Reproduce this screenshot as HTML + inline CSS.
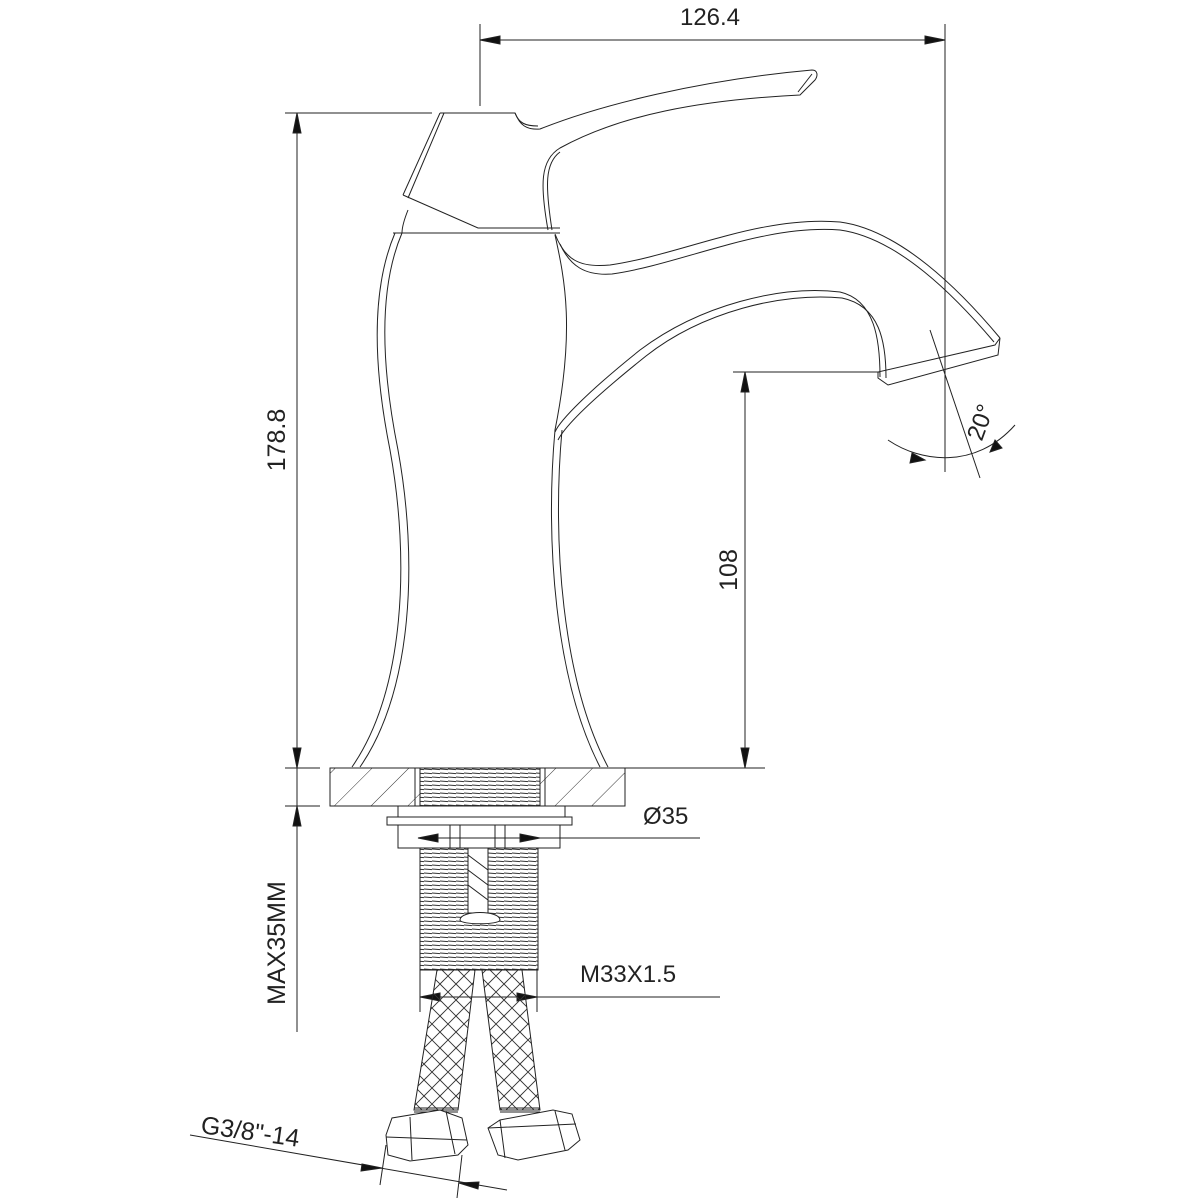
<!DOCTYPE html>
<html><head><style>
html,body{margin:0;padding:0;background:#fff}
svg{display:block}
text{font-family:"Liberation Sans",sans-serif;fill:#222}
</style></head><body>
<svg width="1200" height="1200" viewBox="0 0 1200 1200" xmlns="http://www.w3.org/2000/svg">
<defs>
<pattern id="h" width="26" height="26" patternUnits="userSpaceOnUse" patternTransform="rotate(45)"><line x1="0" y1="0" x2="0" y2="26" stroke="#333" stroke-width="1"/></pattern>
<pattern id="th" width="8" height="4" patternUnits="userSpaceOnUse"><line x1="0" y1="1" x2="8" y2="1.6" stroke="#333" stroke-width="1"/></pattern>
<pattern id="br" width="16" height="16" patternUnits="userSpaceOnUse"><path d="M0,0L8,8L0,16M8,8L16,0M8,8L16,16" stroke="#333" fill="none" stroke-width="0.9"/></pattern>
</defs>
<g fill="none" stroke="#222" stroke-width="1">
<!-- dims top -->
<line x1="480" y1="24" x2="480" y2="106"/>
<line x1="945" y1="24" x2="945" y2="472"/>
<line x1="480" y1="40" x2="945" y2="40"/>
<path d="M500,36L480,40L500,44z M925,36L945,40L925,44z" fill="#111"/>
<!-- left dims -->
<line x1="285" y1="113" x2="432" y2="113"/>
<line x1="285" y1="768" x2="320" y2="768"/>
<line x1="285" y1="806" x2="320" y2="806"/>
<line x1="297" y1="113" x2="297" y2="768"/>
<path d="M293,133L297,113L301,133z M293,748L297,768L301,748z" fill="#111"/>
<line x1="297" y1="768" x2="297" y2="1032"/>
<path d="M293,826L297,806L301,826z" fill="#111"/>
<!-- 108 -->
<line x1="733" y1="372" x2="880" y2="372"/>
<line x1="605" y1="768" x2="765" y2="768"/>
<line x1="745" y1="372" x2="745" y2="768"/>
<path d="M741,392L745,372L749,392z M741,748L745,768L749,748z" fill="#111"/>
<!-- handle -->
<path d="M440,113L515,113C520,125 526,130 540,129C600,105 700,80 812,70C818,70 818,76 815,80L800,95C700,100 620,115 560,148C540,160 540,185 548,230"/>
<path d="M444,113L408,198M515,113C519,123 525,126 538,126M812,74L798,92M560,152C545,163 545,185 552,230"/>
<path d="M403,195L440,113M403,195L478,228L560,228"/>
<!-- body -->
<line x1="393" y1="233" x2="560" y2="233"/>
<path d="M395,233C375,280 370,350 390,450C410,560 405,690 352,767"/>
<path d="M402,233C382,280 378,350 398,450C418,560 413,690 360,767"/>
<path d="M408,210C404,220 402,228 402,233"/>
<path d="M555,235C565,280 575,330 555,430C545,540 555,680 600,767"/>
<path d="M562,430C552,540 562,680 608,767"/>
<!-- spout -->
<path d="M555,234C565,260 580,268 610,265C680,255 760,215 840,222C900,230 960,290 1000,338"/>
<path d="M560,244C570,266 585,276 612,274C682,264 762,224 840,230C898,238 955,296 994,342"/>
<path d="M1000,338L998,355L888,385L878,378L878,372L995,345z"/>
<path d="M880,377C880,340 875,300 840,292C780,285 700,305 640,350C590,390 560,420 555,432"/>
<path d="M886,378C886,342 880,306 842,298C782,292 702,312 646,356C596,396 566,424 558,440"/>
<!-- angle -->
<line x1="930" y1="330" x2="980" y2="478"/>
<path d="M888,440C920,462 975,470 1015,425"/>
<path d="M912,453L925,460L910,463z M995,440L1002,448L990,452z" fill="#111"/>
<!-- plate -->
<rect x="330" y="768" width="295" height="38" fill="url(#h)"/>
<rect x="420" y="768" width="120" height="38" fill="#fff"/>
<rect x="420" y="768" width="120" height="38" fill="url(#th)"/>
<line x1="415" y1="768" x2="415" y2="806"/><line x1="545" y1="768" x2="545" y2="806"/>
<rect x="398" y="806" width="167" height="11"/>
<rect x="387" y="817" width="185" height="8"/>
<rect x="398" y="825" width="162" height="23"/>
<line x1="450" y1="825" x2="450" y2="848"/><line x1="460" y1="825" x2="460" y2="848"/>
<line x1="495" y1="825" x2="495" y2="848"/><line x1="505" y1="825" x2="505" y2="848"/>
<line x1="418" y1="838" x2="700" y2="838"/>
<path d="M438,834L418,838L438,842z M520,834L540,838L520,842z" fill="#111"/>
<!-- shank -->
<rect x="420" y="848" width="118" height="122" fill="url(#th)"/>
<rect x="420" y="848" width="118" height="122"/>
<rect x="468" y="848" width="20" height="65" fill="#fff"/>
<path d="M468,848L468,913M488,848L488,913M468,855L488,870M468,870L488,885M468,885L488,900"/>
<path d="M460,920C460,910 500,910 500,920C500,925 460,925 460,920z" fill="#fff"/>
<!-- M33 -->
<line x1="420" y1="970" x2="420" y2="1012"/><line x1="537" y1="970" x2="537" y2="1012"/>
<line x1="420" y1="997" x2="720" y2="997"/>
<path d="M440,993L420,997L440,1001z M517,993L537,997L517,1001z" fill="#111"/>
<!-- hoses -->
<path d="M437,970L475,970L458,1110L414,1110z" fill="url(#br)"/>
<path d="M482,970L522,970L540,1110L500,1110z" fill="url(#br)"/>
<path d="M414,1108L458,1108M414,1112L458,1112M500,1108L540,1108M500,1112L540,1112"/>
<path d="M386,1135L392,1118L440,1110L462,1118L468,1145L458,1155L410,1161L388,1155z" fill="#fff"/>
<path d="M410,1117L412,1160M446,1111L455,1154M386,1137L467,1140"/>
<path d="M488,1128L500,1120L553,1110L572,1114L580,1140L568,1150L518,1160L498,1155z" fill="#fff"/>
<path d="M500,1120L505,1158M555,1111L565,1150M488,1128L576,1124"/>
<!-- G3/8 -->
<line x1="190" y1="1135" x2="507" y2="1190"/>
<path d="M362,1164L382,1168L361,1171z M479,1182L459,1183L478,1189z" fill="#111"/>
<line x1="386" y1="1145" x2="380" y2="1185"/><line x1="462" y1="1155" x2="457" y2="1198"/>
</g>
<text x="710" y="25" font-size="24" text-anchor="middle">126.4</text>
<text x="285" y="440" font-size="25" text-anchor="middle" transform="rotate(-90 285 440)">178.8</text>
<text x="737" y="570" font-size="25" text-anchor="middle" transform="rotate(-90 737 570)">108</text>
<text x="285" y="943" font-size="25" text-anchor="middle" transform="rotate(-90 285 943)">MAX35MM</text>
<text x="643" y="824" font-size="24">Ø35</text>
<text x="580" y="982" font-size="24">M33X1.5</text>
<text x="200" y="1133" font-size="25" transform="rotate(8 200 1133)">G3/8"-14</text>
<text x="988" y="425" font-size="24" text-anchor="middle" transform="rotate(-70 988 425)">20°</text>
</svg>
</body></html>
